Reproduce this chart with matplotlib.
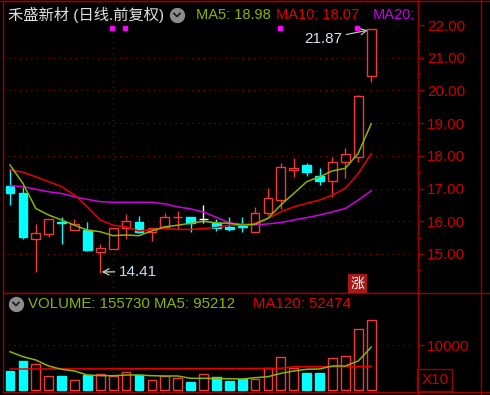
import matplotlib
matplotlib.use("Agg")
import matplotlib.pyplot as plt
from matplotlib.lines import Line2D
from matplotlib.patches import Rectangle

plt.rcParams['font.family'] = ['Liberation Sans', 'Noto Sans CJK SC', 'DejaVu Sans']

W, H = 490, 395

# ---- data ----
opens = [17.09, 16.85, 15.46, 15.61, 15.99, 15.73, 15.73, 15.05, 15.15, 15.78,
         15.98, 15.66, 15.81, 16.12, 16.14, 16.07, 15.94, 15.83, 15.86, 15.66,
         16.24, 16.65, 17.58, 17.72, 17.38, 17.23, 17.80, 17.95, 20.44]
closes = [16.85, 15.53, 15.63, 16.06, 15.96, 15.91, 15.12, 15.17, 15.78, 16.02,
          15.68, 15.78, 16.12, 16.14, 15.95, 16.07, 15.78, 15.75, 15.84, 16.24,
          16.70, 17.67, 17.62, 17.50, 17.23, 17.82, 18.05, 19.84, 21.87]
highs = [17.59, 17.06, 15.91, 16.06, 16.12, 16.06, 15.98, 15.29, 15.80, 16.22,
         16.17, 15.80, 16.26, 16.32, 16.14, 16.50, 16.07, 16.14, 16.14, 16.44,
         17.01, 17.79, 17.94, 17.79, 17.64, 17.97, 18.25, 19.86, 21.87]
lows = [16.50, 15.46, 14.44, 15.53, 15.30, 15.73, 15.09, 14.41, 15.15, 15.46,
        15.64, 15.39, 15.81, 15.75, 15.66, 15.95, 15.71, 15.71, 15.68, 15.66,
        16.19, 16.39, 17.36, 17.38, 17.11, 16.73, 17.31, 17.82, 20.27]

ma5 = [17.72, 17.16, 16.39, 16.19, 16.04, 15.88, 15.73, 15.68, 15.56, 15.58,
       15.56, 15.71, 15.83, 15.88, 15.94, 16.00, 15.95, 15.94, 15.88, 15.91,
       16.09, 16.50, 16.85, 17.21, 17.36, 17.54, 17.62, 18.08, 18.98]
ma10 = [17.57, 17.50, 17.36, 17.21, 17.06, 16.80, 16.44, 16.04, 15.88, 15.83,
        15.70, 15.75, 15.78, 15.75, 15.75, 15.78, 15.81, 15.88, 15.88, 15.94,
        16.09, 16.29, 16.44, 16.55, 16.65, 16.80, 17.01, 17.46, 18.07]
ma20 = [17.09, 17.06, 16.98, 16.90, 16.85, 16.75, 16.67, 16.60, 16.58, 16.58,
        16.58, 16.58, 16.53, 16.44, 16.38, 16.28, 16.12, 15.95, 15.91, 15.89,
        15.92, 15.96, 16.04, 16.11, 16.19, 16.29, 16.39, 16.65, 16.93]

volume = [42900, 65100, 57100, 31800, 31800, 22900, 33300, 34900, 30400, 39300,
          33300, 22900, 30400, 26000, 18500, 34900, 29600, 20700, 24400, 23800,
          48100, 74100, 49600, 38500, 38500, 70400, 76300, 134800, 155730]
vol_ma5 = [85100, 74000, 66700, 53300, 46000, 42200, 33300, 31800, 31800, 33300,
           33300, 31800, 31100, 31100, 26000, 26000, 25500, 25000, 24400, 27300,
           29600, 37000, 42200, 46000, 46700, 53300, 53300, 64400, 95212]
vol_ma120 = [46700, 46700, 46800, 46800, 46900, 46900, 47000, 47000, 47100, 47100,
             47200, 47200, 47300, 47300, 47400, 47400, 47500, 47600, 47700, 47800,
             47900, 48100, 51600, 51700, 51800, 51900, 52000, 52200, 52474]

price_ticks = [15, 16, 17, 18, 19, 20, 21, 22]
marker_days = [8, 9, 21, 27]

RED = '#f03a3a'
CYAN = '#00ffff'
FRAME = '#9a0000'
LABEL = '#c80000'
GRID = '#8a0000'
C_MA5 = '#8cb400'
C_MA10 = '#e80000'
C_MA20 = '#d000e0'
HFS = 10.5  # header font size


def fx(x):
    return x / W


def fy(y):
    return 1 - y / H


fig = plt.figure(figsize=(4.9, 3.95), dpi=100, facecolor='black')
ax = fig.add_axes([fx(3), fy(293), fx(418) - fx(3), (293 - 1) / H])
axv = fig.add_axes([fx(3), fy(392), fx(418) - fx(3), (392 - 293) / H])

n = len(closes)
xs = list(range(n))
x0, x1 = -0.543, 31.63
xg = 31.16  # where dotted grid stops

for a in (ax, axv):
    a.set_facecolor('black')
    a.set_xlim(x0, x1)
    a.set_xticks([])
    for s in a.spines.values():
        s.set_color(FRAME)
        s.set_linewidth(1)
    a.yaxis.tick_right()
    a.tick_params(axis='y', colors=FRAME, labelcolor=LABEL, labelsize=11,
                  length=4.5, width=1, pad=2)

# ---- price panel ----
ax.set_ylim(13.807, 22.734)
ax.set_yticks(price_ticks)
ax.set_yticklabels(['%.2f' % t for t in price_ticks])
ax.set_yticks([t - 0.5 for t in price_ticks], minor=True)
ax.tick_params(axis='y', which='minor', colors=FRAME, length=2.5, width=1)

for t in price_ticks[:-1]:
    ax.plot([x0, xg], [t, t], color=GRID, lw=0.8, ls=(0, (1.2, 3.8)), zorder=0)
ax.plot([8, 8], [13.807, 21.69], color=GRID, lw=0.8, ls=(0, (1.2, 3.8)), zorder=0)

bw = 0.68
for i in xs:
    o, c, h, l = opens[i], closes[i], highs[i], lows[i]
    if c > o:
        col = RED
        ax.vlines(i, l, h, color=col, lw=1, zorder=2)
        ax.bar(i, c - o, bottom=o, width=bw, facecolor='black', edgecolor=col,
               lw=1, zorder=3)
    elif c < o:
        col = CYAN
        ax.vlines(i, l, h, color=col, lw=1, zorder=2)
        ax.bar(i, o - c, bottom=c, width=bw, facecolor=col, edgecolor=col,
               lw=1, zorder=3)
    else:
        ax.vlines(i, l, h, color='white', lw=1, zorder=2)
        ax.hlines(o, i - bw / 2, i + bw / 2, color='white', lw=1, zorder=3)

ax.plot(xs, ma20, color=C_MA20, lw=1.1, zorder=4)
ax.plot(xs, ma10, color=C_MA10, lw=1.1, zorder=4)
ax.plot(xs, ma5, color=C_MA5, lw=1.1, zorder=4)

ax.plot([d - 0.1 for d in marker_days], [21.91] * len(marker_days), 's',
        color='#ff00ff', ms=3, zorder=5)

ax.annotate('21.87', xy=(27.75, 21.84), xytext=(25.75, 21.57),
            ha='right', va='center', color='#d4e4f4', fontsize=11,
            arrowprops=dict(arrowstyle='->', color='#c0c0c0', lw=0.9,
                            shrinkA=1, shrinkB=0))
ax.annotate('14.41', xy=(7.1, 14.45), xytext=(8.45, 14.46),
            ha='left', va='center', color='#c8dcf0', fontsize=11,
            arrowprops=dict(arrowstyle='->', color='#d0d0d0', lw=0.9,
                            shrinkA=1, shrinkB=0))

# ---- volume panel ----
axv.set_ylim(-4444, 215556)
axv.set_yticks([100000])
axv.set_yticklabels(['10000'])
axv.plot([x0, xg], [100000, 100000], color=GRID, lw=0.8, ls=(0, (1.2, 3.8)), zorder=0)
axv.plot([8, 8], [0, 160000], color=GRID, lw=0.8, ls=(0, (1.2, 3.8)), zorder=0)

for i in xs:
    if closes[i] >= opens[i]:
        axv.bar(i, volume[i], width=bw, facecolor='black', edgecolor=RED, lw=1, zorder=2)
    else:
        axv.bar(i, volume[i], width=bw, facecolor=CYAN, edgecolor=CYAN, lw=1, zorder=2)
axv.plot(xs, vol_ma120, color=C_MA10, lw=1.1, zorder=3)
axv.plot(xs, vol_ma5, color=C_MA5, lw=1.1, zorder=3)

# ---- frame lines outside the axes ----
for seg in ([(481, 0), (481, 395)], [(418, 0), (418, 395)], [(0, 0.5), (490, 0.5)],
            [(418, 293), (490, 293)], [(418, 392), (490, 392)]):
    (xa, ya), (xb, yb) = seg
    fig.add_artist(Line2D([fx(xa), fx(xb)], [fy(ya), fy(yb)], color=FRAME, lw=1,
                          transform=fig.transFigure))

fig.add_artist(Rectangle((fx(417), fy(391)), fx(452) - fx(417), (391 - 369) / H,
                         transform=fig.transFigure, fill=False, edgecolor=FRAME, lw=1))
fig.text(fx(435), fy(380), 'X10', color=LABEL, fontsize=11, ha='center', va='center')


def chevron(cx, cy):
    fig.add_artist(Line2D([fx(cx)], [fy(cy)], marker='o', ms=10, color='#8c8c8c',
                          transform=fig.transFigure))
    fig.add_artist(Line2D([fx(cx - 3), fx(cx), fx(cx + 3)], [fy(cy - 1.5), fy(cy + 1.5), fy(cy - 1.5)],
                          color='#202020', lw=1.3, transform=fig.transFigure))


# ---- header texts ----
fig.text(fx(8), fy(15), '禾盛新材 (日线.前复权)', color='#e0e0e0', fontsize=11,
         ha='left', va='center')
chevron(177, 15)
fig.text(fx(196), fy(15), 'MA5: 18.98', color=C_MA5, fontsize=HFS, ha='left', va='center')
fig.text(fx(276), fy(15), 'MA10: 18.07', color='#e00000', fontsize=HFS, ha='left', va='center')
fig.text(fx(373), fy(15), 'MA20:', color='#c800f0', fontsize=HFS, ha='left', va='center')

chevron(16, 304)
fig.text(fx(28), fy(304), 'VOLUME: 155730 MA5: 95212', color=C_MA5, fontsize=HFS + 0.3,
         ha='left', va='center')
fig.text(fx(253), fy(304), 'MA120: 52474', color='#e00000', fontsize=HFS + 0.3,
         ha='left', va='center')

fig.text(fx(357.5), fy(283.5), '涨', color='white', fontsize=10, ha='center', va='center',
         family=['Noto Sans CJK SC'],
         bbox=dict(boxstyle='square,pad=0.15', facecolor='#a81818', edgecolor='none'))

fig.savefig('out.png', dpi=100, facecolor='black')
